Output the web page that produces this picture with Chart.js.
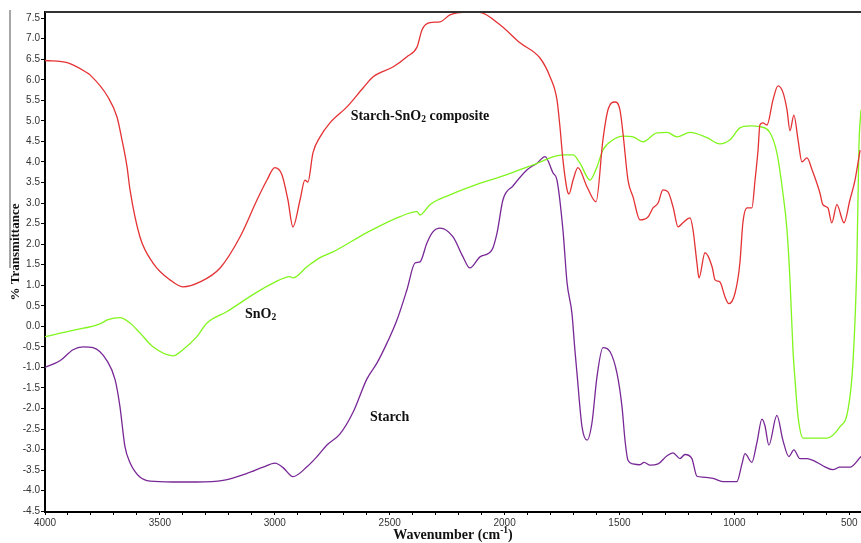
<!DOCTYPE html>
<html>
<head>
<meta charset="utf-8">
<script src="https://cdn.jsdelivr.net/npm/chart.js@4.4.0/dist/chart.umd.min.js"></script>
<style>
html, body { margin: 0; padding: 0; background: #fff; }
</style>
</head>
<body>
<canvas id="myChart" width="861" height="543"></canvas>
<script>
// wavenumber (cm-1) / % transmittance
const redWn = [4000,3900,3817,3804,3726,3687,3665,3643,3630,3587,3530,3456,3400,3325,3238,3151,3077,3034,3000,2969,2943,2921,2890,2869,2856,2834,2803,2760,2686,2616,2573,2486,2425,2381,2359,2325,2281,2238,2207,2151,2107,2020,1933,1846,1802,1772,1759,1746,1728,1720,1702,1681,1641,1602,1572,1550,1520,1498,1485,1463,1441,1411,1376,1354,1332,1311,1289,1267,1245,1224,1193,1180,1163,1154,1128,1097,1084,1063,1041,1024,997,976,963,945,924,910,897,889,876,858,832,810,789,771,758,741,723,706,684,662,628,615,593,576,554,523,497,475,453]
const redT = [6.47,6.41,6.17,6.12,5.58,5.10,4.54,3.88,3.32,2.18,1.54,1.13,0.96,1.08,1.42,2.18,3.08,3.56,3.86,3.69,3.08,2.42,3.08,3.56,3.51,4.22,4.61,4.95,5.34,5.80,6.07,6.31,6.56,6.80,7.22,7.39,7.41,7.58,7.63,7.65,7.64,7.34,6.90,6.53,6.07,5.51,4.85,4.05,3.32,3.22,3.56,3.86,3.39,3.03,4.54,5.27,5.46,5.27,4.71,3.56,3.15,2.59,2.66,2.88,3.00,3.32,3.27,2.91,2.42,2.52,2.64,2.35,1.54,1.18,1.79,1.45,1.13,1.08,0.72,0.55,0.81,1.54,2.52,2.88,2.88,3.56,4.29,4.90,4.95,4.90,5.51,5.85,5.70,5.27,4.76,5.14,4.54,4.00,4.10,3.81,3.25,2.96,2.88,2.52,2.96,2.52,3.08,3.56,4.29]

const greenWn = [4000,3878,3761,3726,3674,3630,3587,3530,3443,3400,3339,3295,3208,3095,3008,2934,2921,2860,2803,2747,2599,2455,2381,2368,2325,2238,2138,1990,1876,1746,1702,1672,1628,1598,1572,1528,1485,1441,1398,1337,1293,1250,1193,1119,1063,1019,976,932,889,845,815,789,771,758,745,736,723,701,597,541,506,484,467,458,449]
const greenT = [-0.25,-0.10,0.06,0.16,0.21,0.08,-0.16,-0.50,-0.72,-0.57,-0.25,0.08,0.36,0.77,1.05,1.21,1.18,1.45,1.67,1.81,2.28,2.67,2.79,2.71,2.96,3.20,3.42,3.69,3.93,4.17,4.17,3.97,3.56,3.88,4.29,4.54,4.63,4.61,4.49,4.71,4.72,4.61,4.72,4.59,4.44,4.54,4.83,4.88,4.86,4.71,4.22,3.25,2.34,1.12,-0.58,-1.31,-2.20,-2.72,-2.72,-2.45,-2.04,-0.89,1.54,4.37,5.27]

const purpleWn = [4000,3935,3878,3835,3791,3730,3695,3674,3652,3630,3587,3543,3443,3339,3225,3121,3051,2999,2964,2921,2860,2816,2773,2716,2660,2599,2555,2512,2468,2425,2390,2368,2338,2312,2281,2225,2181,2151,2107,2055,2033,2007,1963,1902,1859,1824,1789,1772,1746,1728,1707,1694,1685,1663,1641,1620,1598,1572,1541,1511,1489,1476,1463,1441,1411,1393,1367,1332,1293,1267,1237,1215,1185,1163,1137,1093,1050,989,967,954,924,902,880,867,850,815,789,763,741,715,684,641,606,571,541,497,449]
const purpleT = [-1.00,-0.84,-0.57,-0.50,-0.52,-0.84,-1.30,-1.95,-2.93,-3.32,-3.67,-3.77,-3.79,-3.79,-3.75,-3.58,-3.43,-3.33,-3.44,-3.66,-3.42,-3.17,-2.89,-2.62,-2.10,-1.28,-0.89,-0.41,0.16,0.89,1.54,1.57,2.03,2.30,2.39,2.18,1.69,1.42,1.69,1.86,2.27,3.08,3.42,3.81,3.97,4.13,3.73,3.56,2.34,1.05,0.32,-0.58,-1.14,-2.45,-2.77,-2.36,-1.23,-0.52,-0.62,-1.14,-1.96,-2.77,-3.26,-3.35,-3.37,-3.31,-3.38,-3.35,-3.15,-3.08,-3.22,-3.12,-3.22,-3.65,-3.67,-3.70,-3.78,-3.78,-3.35,-3.10,-3.31,-2.83,-2.26,-2.42,-2.89,-2.17,-2.77,-3.17,-3.01,-3.22,-3.22,-3.31,-3.42,-3.49,-3.43,-3.43,-3.17]

// axis ticks
const xLabels = [4000,3500,3000,2500,2000,1500,1000,500]
const yLabels = [-4.5,-4.0,-3.5,-3.0,-2.5,-2.0,-1.5,-1.0,-0.5,0.0,0.5,1.0,1.5,2.0,2.5,3.0,3.5,4.0,4.5,5.0,5.5,6.0,6.5,7.0,7.5]
let xMinor = []
for (let v = 4000; v >= 500; v -= 100) xMinor.push(v)

// text written inside the plot, anchored in data units (left edge, middle)
const notes = [
    {parts: [{t: "Starch-SnO"}, {t: "2", sub: true}, {t: " composite"}], wn: 2670, t: 5.10},
    {parts: [{t: "SnO"}, {t: "2", sub: true}], wn: 3130, t: 0.28},
    {parts: [{t: "Starch"}], wn: 2586, t: -2.21}
]

const pts = (xs, ys) => xs.map((x, i) => ({x: x, y: ys[i]}))

const SERIF = '"Liberation Serif", "Times New Roman", serif'

function partsWidth(ctx, parts, size) {
    let w = 0
    parts.forEach(p => {
        ctx.font = "bold " + (p.sub || p.sup ? size * 0.68 : size) + "px " + SERIF
        w += ctx.measureText(p.t).width
    })
    return w
}
function drawParts(ctx, parts, x, y, size) {
    parts.forEach(p => {
        const sz = p.sub || p.sup ? size * 0.68 : size
        ctx.font = "bold " + sz + "px " + SERIF
        const dy = p.sub ? size * 0.22 : p.sup ? -size * 0.35 : 0
        ctx.fillText(p.t, x, y + dy)
        x += ctx.measureText(p.t).width
    })
}

const decor = {
    id: "decor",
    afterDraw(chart) {
        const ctx = chart.ctx
        const a = chart.chartArea
        const sx = chart.scales.x, sy = chart.scales.y
        ctx.save()
        // top frame line
        ctx.strokeStyle = "#333"
        ctx.lineWidth = 2
        ctx.beginPath()
        ctx.moveTo(a.left, a.top)
        ctx.lineTo(a.right, a.top)
        ctx.stroke()
        // grey edge line on the far left
        ctx.strokeStyle = "#8a8a8a"
        ctx.lineWidth = 1.5
        ctx.beginPath()
        ctx.moveTo(10, 10)
        ctx.lineTo(10, 268)
        ctx.stroke()

        ctx.fillStyle = "#111"
        ctx.textBaseline = "middle"
        ctx.textAlign = "left"
        notes.forEach(n => {
            drawParts(ctx, n.parts, sx.getPixelForValue(n.wn), sy.getPixelForValue(n.t), 14)
        })

        // x title
        const xt = [{t: "Wavenumber (cm"}, {t: "-1", sup: true}, {t: ")"}]
        const wx = partsWidth(ctx, xt, 14)
        drawParts(ctx, xt, (a.left + a.right) / 2 - wx / 2, 535, 14)

        // y title
        const yt = [{t: "% Transmittance"}]
        const wy = partsWidth(ctx, yt, 13)
        ctx.translate(16, 252)
        ctx.rotate(-Math.PI / 2)
        drawParts(ctx, yt, -wy / 2, 0, 13)
        ctx.restore()
    }
}

var ctx = document.getElementById("myChart").getContext("2d")
var chart = new Chart(ctx, {
    type: "line",
    data: {
        datasets: [
            {label: "Starch-SnO2 composite", data: pts(redWn, redT), borderColor: "rgb(228,50,52)"},
            {label: "SnO2", data: pts(greenWn, greenT), borderColor: "rgb(128,245,30)"},
            {label: "Starch", data: pts(purpleWn, purpleT), borderColor: "rgb(120,40,150)"}
        ]
    },
    options: {
        responsive: false,
        animation: false,
        layout: {padding: {top: 12, left: 0, right: 0, bottom: 0}},
        plugins: {legend: {display: false}, tooltip: {enabled: false}},
        elements: {
            point: {radius: 0},
            line: {borderWidth: 1.3, cubicInterpolationMode: "monotone", fill: false}
        },
        scales: {
            x: {
                type: "linear",
                reverse: true,
                min: 449,
                max: 4000,
                afterBuildTicks: s => { s.ticks = xMinor.map(v => ({value: v})) },
                afterFit: s => { s.height = 31 },
                grid: {drawOnChartArea: false, color: "#000", tickLength: 3},
                border: {color: "#000", width: 2},
                ticks: {
                    autoSkip: false, maxRotation: 0, padding: 2, color: "#333",
                    font: {family: "Liberation Sans", size: 10},
                    callback: v => xLabels.includes(v) ? String(v) : ""
                }
            },
            y: {
                type: "linear",
                min: -4.52,
                max: 7.65,
                afterBuildTicks: s => { s.ticks = yLabels.map(v => ({value: v})) },
                afterFit: s => { s.width = 45 },
                grid: {drawOnChartArea: false, color: "#000", tickLength: 4},
                border: {color: "#000", width: 2},
                ticks: {
                    autoSkip: false, padding: 1, color: "#333",
                    font: {family: "Liberation Sans", size: 10},
                    callback: v => v.toFixed(1)
                }
            }
        }
    },
    plugins: [decor]
})
</script>
</body>
</html>
